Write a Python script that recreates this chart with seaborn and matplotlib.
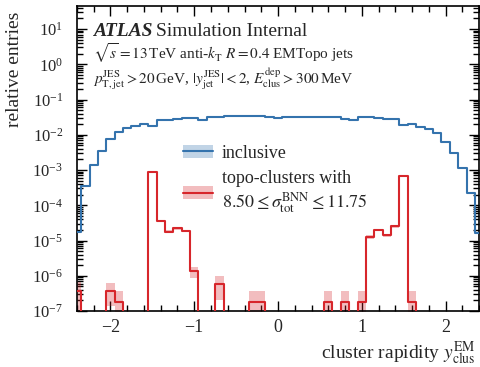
import numpy as np
import pandas as pd
import matplotlib
matplotlib.use("Agg")
import matplotlib.pyplot as plt
import seaborn as sns
from matplotlib.patches import Patch
from matplotlib.lines import Line2D
from matplotlib.ticker import LogLocator, MultipleLocator, NullFormatter, FixedLocator

# ---- binning: 0.1 wide rapidity bins centred on multiples of 0.1 ----
bin_edges = np.linspace(-2.45, 2.45, 50)
bin_centers = 0.5 * (bin_edges[:-1] + bin_edges[1:])

# inclusive cluster rapidity distribution (normalised)
inclusive = [
    1.7e-5, 3.5e-4, 1.4e-3, 3.4e-3, 7.5e-3, 1.2e-2, 1.6e-2, 1.8e-2, 2.05e-2, 1.75e-2,
    2.65e-2, 2.6e-2, 2.8e-2, 3.0e-2, 3.0e-2, 2.7e-2, 3.1e-2, 3.1e-2, 3.3e-2, 3.3e-2,
    3.3e-2, 3.3e-2, 3.3e-2, 3.25e-2, 2.9e-2, 3.2e-2, 3.25e-2, 3.25e-2, 3.25e-2, 3.2e-2,
    3.2e-2, 3.15e-2, 2.75e-2, 2.7e-2, 3.15e-2, 3.15e-2, 3.0e-2, 2.8e-2, 2.75e-2, 1.9e-2,
    2.05e-2, 1.65e-2, 1.45e-2, 1.15e-2, 6.2e-3, 3.1e-3, 1.15e-3, 2.3e-4, 1.6e-5,
]
inclusive_rel_unc = 0.06

# topo-clusters with 8.50 <= sigma_tot^BNN <= 11.75
selected = [
    3.7e-7, 0, 0, 0, 3.8e-7, 1.8e-7, 0, 0, 0, 9.0e-4,
    3.5e-5, 1.8e-5, 2.2e-5, 1.85e-5, 1.35e-6, 0, 0, 6.0e-7, 0, 0,
    0, 1.8e-7, 1.8e-7, 0, 0, 0, 0, 0, 0, 0,
    1.8e-7, 0, 1.8e-7, 0, 1.8e-7, 1.25e-5, 2.0e-5, 1.4e-5, 2.5e-5, 6.8e-4,
    1.8e-7, 0, 0, 0, 0, 0, 0, 0, 0,
]
selected_unc = [
    2.8e-7, 0, 0, 0, 2.4e-7, 1.8e-7, 0, 0, 0, 3.0e-5,
    2.5e-6, 1.6e-6, 1.8e-6, 1.6e-6, 4.8e-7, 0, 0, 4.0e-7, 0, 0,
    0, 1.8e-7, 1.8e-7, 0, 0, 0, 0, 0, 0, 0,
    1.8e-7, 0, 1.8e-7, 0, 1.8e-7, 1.4e-6, 1.8e-6, 1.5e-6, 2.0e-6, 2.6e-5,
    1.8e-7, 0, 0, 0, 0, 0, 0, 0, 0,
]

x_ticks = [-2, -1, 0, 1, 2]
y_range = (1e-7, 45)

blue = "#3473ad"
red = "#d7262b"

sns.set_theme(style="ticks")
plt.rcParams["font.family"] = ["Liberation Serif", "DejaVu Serif"]
plt.rcParams["mathtext.fontset"] = "stix"
plt.rcParams["axes.unicode_minus"] = True

fig = plt.figure(figsize=(4.81, 3.67), dpi=100)
ax = fig.add_axes([0.160, 0.1526, 0.836, 0.831])

df = pd.DataFrame({
    "y": bin_centers,
    "inclusive": inclusive,
    "selected": selected,
})

# uncertainty bands
incl = np.asarray(inclusive)
for i, v in enumerate(incl):
    if v > 0:
        ax.fill_between(bin_edges[i:i + 2], v * (1 - inclusive_rel_unc), v * (1 + inclusive_rel_unc),
                        color=blue, alpha=0.3, lw=0, zorder=1)
sel = np.asarray(selected)
sel_u = np.asarray(selected_unc)
for i, v in enumerate(sel):
    if v > 0:
        lo = max(v - sel_u[i], 1e-10)
        ax.fill_between(bin_edges[i:i + 2], lo, v + sel_u[i],
                        color=red, alpha=0.3, lw=0, zorder=1)

hist_kws = dict(binwidth=0.1, binrange=(bin_edges[0], bin_edges[-1]), element="step",
                fill=False, linewidth=1.5, ax=ax, zorder=3)
sns.histplot(data=df, x="y", weights="inclusive", color=blue, **hist_kws)
sns.histplot(data=df, x="y", weights="selected", color=red, **hist_kws)

ax.set_yscale("log")
ax.set_xlim(-2.4, 2.4)
ax.set_ylim(*y_range)

ax.xaxis.set_major_locator(FixedLocator(x_ticks))
ax.xaxis.set_minor_locator(MultipleLocator(0.2))
ax.yaxis.set_major_locator(LogLocator(base=10, numticks=20))
ax.yaxis.set_minor_locator(LogLocator(base=10, subs=np.arange(2, 10), numticks=20))
ax.yaxis.set_minor_formatter(NullFormatter())

ax.tick_params(which="both", direction="in", top=True, right=True, width=1.0, color="black")
ax.tick_params(which="major", length=7)
ax.tick_params(which="minor", length=4)
ax.tick_params(axis="x", pad=6, labelsize=13)
ax.tick_params(axis="y", pad=10, labelsize=12)
for s in ax.spines.values():
    s.set_linewidth(1.2)
    s.set_color("black")

ax.set_xlabel(r"cluster rapidity $y^{\rm EM}_{\rm clus}$", loc="right", fontsize=14)
ax.set_ylabel("relative entries", loc="top", fontsize=14)
ax.xaxis.set_label_coords(0.99, -0.094)
ax.yaxis.set_label_coords(-0.134, 0.98)

# legend with band + line handles
handles = [
    (Patch(facecolor=blue, alpha=0.3, lw=0), Line2D([], [], color=blue, lw=1.5)),
    (Patch(facecolor=red, alpha=0.3, lw=0), Line2D([], [], color=red, lw=1.5)),
]
labels = ["inclusive", "topo-clusters with\n" + r"$8.50 \leq \sigma^{\rm BNN}_{\rm tot} \leq 11.75$"]
ax.legend(handles, labels, loc="upper left", bbox_to_anchor=(0.264, 0.545), frameon=False,
          fontsize=13, borderpad=0, borderaxespad=0, handlelength=1.66, handleheight=0.75,
          handletextpad=0.5, labelspacing=0.45)

# header text
t1 = fig.text(0.193, 0.902, "ATLAS", fontsize=14, fontweight="bold", fontstyle="italic", va="baseline")
fig.canvas.draw()
bb = t1.get_window_extent()
fig.text(bb.x1 / fig.bbox.width + 0.008, 0.902, "Simulation Internal", fontsize=14, va="baseline")
fig.text(0.193, 0.839, r"$\sqrt{s} = 13\,$TeV anti-$k_{\rm T}$ $R = 0.4$ EMTopo jets", fontsize=11, va="baseline")
fig.text(0.193, 0.771,
         r"$p_{\rm T,jet}^{\rm JES} > 20\,$GeV, $|y_{\rm jet}^{\rm JES}| < 2$, $E_{\rm clus}^{\rm dep} > 300\,$MeV",
         fontsize=11, va="baseline")

fig.savefig("out.png", dpi=100)
